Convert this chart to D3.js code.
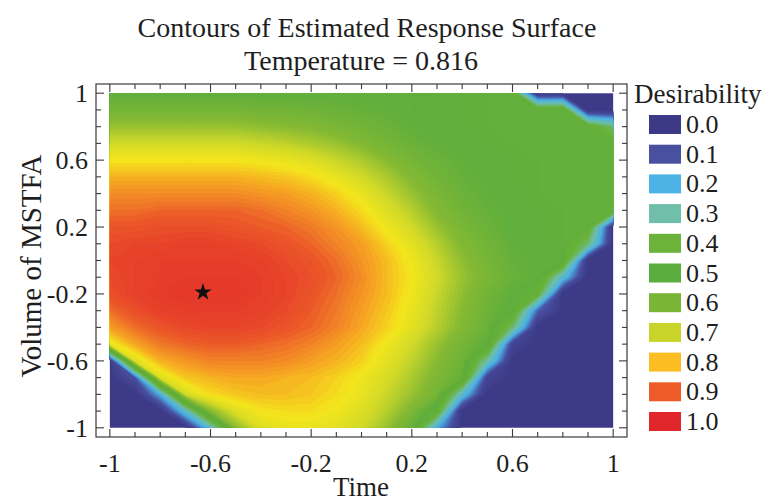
<!DOCTYPE html>
<html><head><meta charset="utf-8">
<script src="https://cdn.jsdelivr.net/npm/d3@7/dist/d3.min.js"></script>
<style>
body{margin:0;background:#fff}
text{font-family:"Liberation Serif","Times New Roman","DejaVu Serif",serif;fill:#1e1e1e}
</style>
</head><body>
<svg id="chart" width="770" height="503"></svg>
<script>
// ---------- data ----------
const chartTitle = "Contours of Estimated Response Surface";
const chartSubtitle = "Temperature = 0.816";
const xTitle = "Time";
const yTitle = "Volume of MSTFA";
const legendTitle = "Desirability";

// grid coordinates (Time along x, Volume of MSTFA along y, top row first)
const timeValues   = [-1,-0.9,-0.8,-0.7,-0.6,-0.5,-0.4,-0.3,-0.2,-0.1,0,0.1,0.2,0.3,0.4,0.5,0.6,0.7,0.8,0.9,1];
const volumeValues = [1,0.9,0.8,0.7,0.6,0.5,0.4,0.3,0.2,0.1,0,-0.1,-0.2,-0.3,-0.4,-0.5,-0.6,-0.7,-0.8,-0.9,-1];

// desirability, one row per volume value (top to bottom)
const desirability = [
  [0.50,0.50,0.50,0.50,0.50,0.50,0.50,0.50,0.50,0.50,0.50,0.50,0.50,0.49,0.48,0.47,0.45,0,0,0,0],
  [0.56,0.56,0.56,0.56,0.56,0.56,0.55,0.55,0.54,0.53,0.52,0.51,0.50,0.49,0.48,0.47,0.46,0.46,0.47,0,0],
  [0.62,0.62,0.62,0.62,0.62,0.62,0.61,0.60,0.59,0.57,0.55,0.53,0.51,0.50,0.48,0.47,0.46,0.46,0.46,0.45,0.35],
  [0.68,0.68,0.68,0.68,0.68,0.68,0.67,0.66,0.64,0.62,0.59,0.56,0.53,0.51,0.49,0.48,0.47,0.46,0.46,0.46,0.46],
  [0.74,0.74,0.74,0.74,0.74,0.74,0.73,0.72,0.70,0.67,0.64,0.60,0.56,0.53,0.51,0.49,0.48,0.47,0.46,0.46,0.46],
  [0.79,0.79,0.79,0.79,0.79,0.79,0.78,0.77,0.75,0.72,0.68,0.64,0.59,0.55,0.52,0.50,0.48,0.47,0.46,0.46,0.46],
  [0.83,0.83,0.83,0.83,0.83,0.83,0.82,0.81,0.79,0.76,0.72,0.67,0.62,0.57,0.53,0.51,0.49,0.47,0.46,0.46,0.46],
  [0.86,0.86,0.87,0.87,0.87,0.87,0.86,0.84,0.82,0.79,0.75,0.70,0.65,0.59,0.55,0.52,0.50,0.48,0.47,0.46,0.46],
  [0.89,0.89,0.90,0.90,0.90,0.89,0.88,0.87,0.85,0.82,0.78,0.73,0.68,0.62,0.57,0.53,0.50,0.48,0.47,0.46,0],
  [0.91,0.92,0.92,0.93,0.93,0.92,0.91,0.89,0.87,0.84,0.81,0.76,0.71,0.65,0.59,0.55,0.51,0.49,0.47,0.35,0],
  [0.92,0.93,0.94,0.94,0.94,0.94,0.93,0.91,0.89,0.86,0.82,0.78,0.73,0.67,0.61,0.56,0.52,0.50,0.50,0,0],
  [0.91,0.93,0.94,0.95,0.95,0.95,0.94,0.92,0.90,0.87,0.83,0.78,0.74,0.68,0.62,0.57,0.53,0.50,0.24,0,0],
  [0.90,0.93,0.95,0.96,0.96,0.96,0.94,0.92,0.89,0.86,0.82,0.78,0.73,0.67,0.61,0.55,0.50,0.42,0,0,0],
  [0.86,0.90,0.93,0.94,0.94,0.94,0.93,0.91,0.88,0.85,0.81,0.77,0.72,0.66,0.60,0.54,0.48,0.12,0,0,0],
  [0.81,0.86,0.89,0.91,0.92,0.92,0.91,0.89,0.87,0.84,0.80,0.76,0.71,0.65,0.59,0.53,0.35,0,0,0,0],
  [0.72,0.80,0.85,0.87,0.88,0.88,0.87,0.86,0.84,0.81,0.78,0.73,0.68,0.62,0.56,0.50,0.05,0,0,0,0],
  [0,0.70,0.79,0.82,0.84,0.84,0.84,0.83,0.81,0.79,0.76,0.71,0.66,0.60,0.54,0.30,0,0,0,0,0],
  [0,0.10,0.70,0.77,0.79,0.80,0.80,0.79,0.78,0.76,0.73,0.69,0.64,0.58,0.52,0.05,0,0,0,0,0],
  [0,0,0.20,0.68,0.75,0.77,0.78,0.78,0.77,0.75,0.72,0.67,0.62,0.56,0.25,0,0,0,0,0,0],
  [0,0,0,0.25,0.60,0.70,0.74,0.75,0.75,0.73,0.70,0.65,0.58,0.45,0,0,0,0,0,0,0],
  [0,0,0,0,0.25,0.60,0.70,0.72,0.72,0.71,0.68,0.62,0.52,0.20,0,0,0,0,0,0,0]
];

// optimum marker (Time, Volume)
const optimum = [-0.63, -0.19];

// axis ticks
const majorTicks = [-1,-0.6,-0.2,0.2,0.6,1];
const majorTickLabels = ["-1","-0.6","-0.2","0.2","0.6","1"];
const minorTicks = [-1,-0.9,-0.8,-0.7,-0.6,-0.5,-0.4,-0.3,-0.2,-0.1,0,0.1,0.2,0.3,0.4,0.5,0.6,0.7,0.8,0.9,1];

// legend
const legendLevels = [0.0,0.1,0.2,0.3,0.4,0.5,0.6,0.7,0.8,0.9,1.0];
const legendLabels = ["0.0","0.1","0.2","0.3","0.4","0.5","0.6","0.7","0.8","0.9","1.0"];

// ---------- styles ----------
const FONT = "'Liberation Serif','Times New Roman','DejaVu Serif',serif";
const legendColors = ["#3c3a86","#4a50a0","#4db3e6","#6fbfaa","#6bb33b","#5aad3c","#7ab535","#c8d42a","#fbbd22","#ee5a28","#e2272a"];
const rampStops  = [0,0.1,0.2,0.3,0.4,0.5,0.6,0.68,0.74,0.8,0.85,0.88,0.93,1.0];
const rampColors = ["#3c3a86","#4a50a0","#4db3e6","#6fbfaa","#6bb33b","#5fae3c","#86ba34","#d2da28","#f4e61c","#f7a822","#f07a28","#ec5a28","#e6402a","#e2302a"];

// ---------- drawing ----------
const svg = d3.select("#chart");
const x = d3.scaleLinear().domain([-1.055, 1.055]).range([96, 627]);
const y = d3.scaleLinear().domain([-1.055, 1.055]).range([437, 84]);
const color = d3.scaleLinear().domain(rampStops).range(rampColors).clamp(true);

const nx = timeValues.length, ny = volumeValues.length;
const stepX = timeValues[1] - timeValues[0];
const stepY = volumeValues[0] - volumeValues[1];
const flat = desirability.flat();
const thresholds = d3.range(0, 100).map(k => k / 100);
const bands = d3.contours().size([nx, ny]).thresholds(thresholds)(flat);

const proj = d3.geoTransform({
  point: function(cx, cy) {
    this.stream.point(
      x(timeValues[0] + (cx - 0.5) * stepX),
      y(volumeValues[0] - (cy - 0.5) * stepY)
    );
  }
});
const path = d3.geoPath(proj);

svg.append("clipPath").attr("id", "plotclip")
  .append("rect")
  .attr("x", x(-1)).attr("y", y(1))
  .attr("width", x(1) - x(-1)).attr("height", y(-1) - y(1));

svg.append("g").attr("clip-path", "url(#plotclip)")
  .selectAll("path").data(bands).join("path")
  .attr("d", path)
  .attr("fill", d => color(d.value + 0.005))
  .attr("stroke", d => color(d.value + 0.005))
  .attr("stroke-width", 0.3);

// optimum star
svg.append("path")
  .attr("d", d3.symbol(d3.symbolStar).size(95)())
  .attr("transform", `translate(${x(optimum[0])},${y(optimum[1])})`)
  .attr("fill", "#111");

// frame
const fx0 = x.range()[0], fx1 = x.range()[1], fy0 = y.range()[1], fy1 = y.range()[0];
svg.append("rect").attr("x", fx0).attr("y", fy0)
  .attr("width", fx1 - fx0).attr("height", fy1 - fy0)
  .attr("fill", "none").attr("stroke", "#3a3a3a").attr("stroke-width", 1.2);

const isMajor = t => majorTicks.some(m => Math.abs(m - t) < 1e-6);
const tickLen = t => isMajor(t) ? 8 : 5;
const tg = svg.append("g").attr("stroke", "#3a3a3a").attr("stroke-width", 1.1);
minorTicks.forEach(t => {
  const L = tickLen(t);
  tg.append("line").attr("x1", x(t)).attr("x2", x(t)).attr("y1", fy1).attr("y2", fy1 - L);
  tg.append("line").attr("x1", x(t)).attr("x2", x(t)).attr("y1", fy0).attr("y2", fy0 + L);
  tg.append("line").attr("y1", y(t)).attr("y2", y(t)).attr("x1", fx0).attr("x2", fx0 + L);
  tg.append("line").attr("y1", y(t)).attr("y2", y(t)).attr("x1", fx1).attr("x2", fx1 - L);
});

// tick labels
svg.append("g").selectAll("text").data(majorTicks).join("text")
  .attr("x", d => x(d)).attr("y", 472)
  .attr("text-anchor", "middle").attr("font-size", 26).attr("font-family", FONT)
  .text((d, i) => majorTickLabels[i]);
svg.append("g").selectAll("text").data(majorTicks).join("text")
  .attr("x", 88).attr("y", d => y(d) + 9)
  .attr("text-anchor", "end").attr("font-size", 26).attr("font-family", FONT)
  .text((d, i) => majorTickLabels[i]);

// titles
svg.append("text").attr("x", 367).attr("y", 37).attr("text-anchor", "middle")
  .attr("font-size", 28).attr("font-family", FONT).text(chartTitle);
svg.append("text").attr("x", 361).attr("y", 70).attr("text-anchor", "middle")
  .attr("font-size", 28).attr("font-family", FONT).text(chartSubtitle);
svg.append("text").attr("x", 361).attr("y", 496).attr("text-anchor", "middle")
  .attr("font-size", 27).attr("font-family", FONT).text(xTitle);
svg.append("text").attr("transform", "translate(41,266) rotate(-90)")
  .attr("text-anchor", "middle").attr("font-size", 29).attr("font-family", FONT).text(yTitle);

// legend
const lg = svg.append("g");
lg.append("text").attr("x", 634).attr("y", 103).attr("font-size", 27).attr("font-family", FONT).text(legendTitle);
const ly = d3.scaleLinear().domain([0, 1]).range([115, 412]);
lg.selectAll("rect").data(legendLevels).join("rect")
  .attr("x", 649).attr("y", d => ly(d)).attr("width", 32).attr("height", 19)
  .attr("fill", (d, i) => legendColors[i]);
lg.selectAll("text.lab").data(legendLevels).join("text").attr("class", "lab")
  .attr("x", 686).attr("y", d => ly(d) + 18).attr("font-size", 26).attr("font-family", FONT)
  .text((d, i) => legendLabels[i]);
</script>
</body></html>
